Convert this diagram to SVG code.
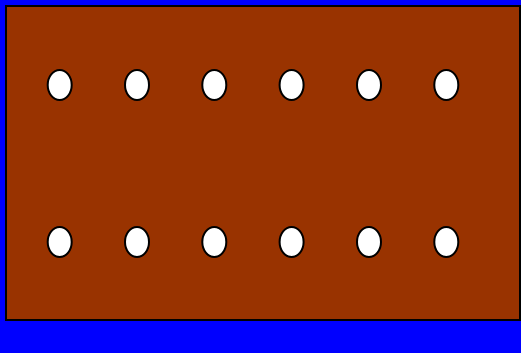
<svg xmlns="http://www.w3.org/2000/svg" width="521" height="353" viewBox="0 0 521 353">
<style>
.hole{fill:#ffffff;stroke:#000000;stroke-width:2}
</style>
<rect x="0" y="0" width="521" height="353" fill="#0000ff"/>
<g id="board">
<rect x="6" y="6" width="514" height="314" fill="#993300" stroke="#000000" stroke-width="2"/>
</g>
<g id="holes-top">
<ellipse class="hole" cx="59.7" cy="85" rx="12" ry="15"/>
<ellipse class="hole" cx="137" cy="85" rx="12" ry="15"/>
<ellipse class="hole" cx="214.3" cy="85" rx="12" ry="15"/>
<ellipse class="hole" cx="291.6" cy="85" rx="12" ry="15"/>
<ellipse class="hole" cx="369" cy="85" rx="12" ry="15"/>
<ellipse class="hole" cx="446.3" cy="85" rx="12" ry="15"/>
</g>
<g id="holes-bottom">
<ellipse class="hole" cx="59.7" cy="242" rx="12" ry="15"/>
<ellipse class="hole" cx="137" cy="242" rx="12" ry="15"/>
<ellipse class="hole" cx="214.3" cy="242" rx="12" ry="15"/>
<ellipse class="hole" cx="291.6" cy="242" rx="12" ry="15"/>
<ellipse class="hole" cx="369" cy="242" rx="12" ry="15"/>
<ellipse class="hole" cx="446.3" cy="242" rx="12" ry="15"/>
</g>
</svg>
